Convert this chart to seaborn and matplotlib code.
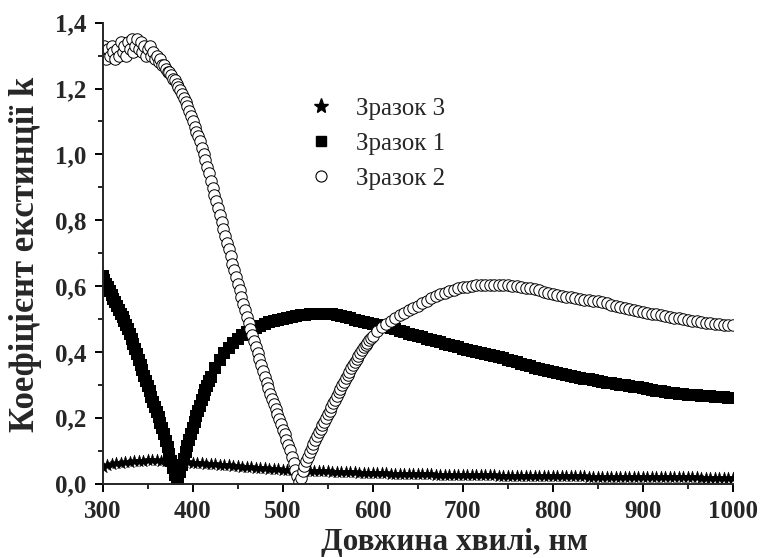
import numpy as np
import pandas as pd
import matplotlib
matplotlib.use("Agg")
import matplotlib.pyplot as plt
from matplotlib.ticker import MultipleLocator, FuncFormatter
from matplotlib.lines import Line2D
import seaborn as sns

# ---------------- data ----------------
x_label = "Довжина хвилі, нм"
y_label = "Коефіцієнт екстинції k"
labels = ["Зразок 3", "Зразок 1", "Зразок 2"]

# Sample 1 (squares)
s1_wl_a = np.arange(300, 421, 2)
s1_k_a = [0.630, 0.619, 0.607, 0.596, 0.584, 0.573, 0.562, 0.550, 0.539, 0.527,
          0.516, 0.505, 0.493, 0.482, 0.470, 0.455, 0.440, 0.424, 0.408, 0.392,
          0.376, 0.360, 0.344, 0.328, 0.312, 0.296, 0.280, 0.264, 0.249, 0.233,
          0.217, 0.201, 0.185, 0.169, 0.150, 0.130, 0.110, 0.090, 0.069, 0.048,
          0.027, 0.008,
          0.015, 0.035, 0.055, 0.075, 0.095, 0.114, 0.133, 0.151, 0.169, 0.187,
          0.204, 0.221, 0.237, 0.253, 0.268, 0.283, 0.297, 0.310, 0.323]
s1_wl_b = np.arange(425, 1001, 5)
s1_k_b = [0.352, 0.375, 0.395, 0.412, 0.427, 0.440, 0.450, 0.459, 0.466, 0.473,
          0.479, 0.485, 0.490, 0.494, 0.498, 0.501, 0.504, 0.507, 0.509, 0.511,
          0.513, 0.514, 0.515, 0.516, 0.516, 0.516, 0.515, 0.513, 0.510, 0.506,
          0.502, 0.498, 0.494, 0.490, 0.487, 0.484, 0.481, 0.478, 0.475, 0.472,
          0.468, 0.464, 0.460, 0.455, 0.451, 0.447, 0.444, 0.440, 0.436, 0.432,
          0.429, 0.425, 0.421, 0.418, 0.414, 0.410, 0.407, 0.404, 0.401, 0.398,
          0.394, 0.391, 0.387, 0.384, 0.380, 0.376, 0.372, 0.368, 0.364, 0.360,
          0.356, 0.352, 0.349, 0.346, 0.343, 0.340, 0.337, 0.334, 0.331, 0.328,
          0.325, 0.322, 0.319, 0.316, 0.313, 0.311, 0.308, 0.306, 0.304, 0.302,
          0.300, 0.298, 0.296, 0.294, 0.292, 0.290, 0.287, 0.285, 0.282, 0.280,
          0.278, 0.276, 0.275, 0.273, 0.272, 0.270, 0.269, 0.268, 0.267, 0.266,
          0.265, 0.264, 0.263, 0.262, 0.261, 0.260]

# Sample 2 (open circles)
s2_wl_a = np.arange(300, 379, 2)
s2_k_a = [1.30, 1.33, 1.29, 1.32, 1.30, 1.33, 1.31, 1.29, 1.32, 1.30,
          1.34, 1.31, 1.33, 1.30, 1.34, 1.32, 1.35, 1.31, 1.33, 1.35,
          1.32, 1.34, 1.31, 1.33, 1.30, 1.32, 1.33, 1.30, 1.31, 1.29,
          1.30, 1.28, 1.29, 1.27, 1.27, 1.26, 1.25, 1.25, 1.24, 1.23]
s2_wl_b = np.arange(380, 521, 2)
s2_k_b = [1.225, 1.215, 1.205, 1.195, 1.183, 1.172, 1.160, 1.147, 1.133, 1.118,
          1.100, 1.083, 1.068, 1.055, 1.040, 1.020, 1.000, 0.982, 0.962, 0.942,
          0.920, 0.897, 0.878, 0.858, 0.838, 0.815, 0.794, 0.773, 0.752, 0.731,
          0.712, 0.690, 0.668, 0.648, 0.627, 0.607, 0.587, 0.566, 0.546, 0.526,
          0.507, 0.488, 0.470, 0.452, 0.434, 0.415, 0.397, 0.378, 0.360, 0.341,
          0.323, 0.305, 0.289, 0.273, 0.258, 0.242, 0.226, 0.210, 0.195, 0.180,
          0.164, 0.149, 0.133, 0.117, 0.102, 0.082, 0.062, 0.042, 0.022, 0.005,
          0.018]
s2_wl_c = np.arange(522, 601, 2)
s2_k_c = [0.038, 0.053, 0.067, 0.081, 0.095, 0.107, 0.119, 0.131, 0.143, 0.155,
          0.166, 0.177, 0.188, 0.199, 0.210, 0.221, 0.232, 0.244, 0.255, 0.266,
          0.277, 0.288, 0.298, 0.309, 0.320, 0.330, 0.340, 0.350, 0.360, 0.370,
          0.379, 0.388, 0.397, 0.406, 0.414, 0.421, 0.428, 0.435, 0.442, 0.448]
s2_wl_d = np.arange(605, 1001, 5)
s2_k_d = [0.462, 0.474, 0.485, 0.495,
          0.504, 0.512, 0.519, 0.526, 0.533, 0.540, 0.548, 0.556, 0.563, 0.569,
          0.575, 0.580, 0.585, 0.589, 0.593, 0.596, 0.598, 0.600, 0.602, 0.603,
          0.603, 0.604, 0.604, 0.603, 0.603, 0.602, 0.600, 0.599, 0.597, 0.595,
          0.593, 0.590, 0.587, 0.583, 0.580, 0.577, 0.574, 0.571, 0.568, 0.566,
          0.563, 0.561, 0.559, 0.557, 0.555, 0.553, 0.550, 0.547, 0.543, 0.540,
          0.536, 0.533, 0.530, 0.527, 0.524, 0.521, 0.518, 0.516, 0.514, 0.512,
          0.509, 0.506, 0.504, 0.502, 0.499, 0.497, 0.495, 0.493, 0.491, 0.489,
          0.487, 0.485, 0.484, 0.483, 0.482, 0.481]

# Sample 3 (stars)
s3_wl = np.arange(300, 1001, 5)
s3_k = [0.050, 0.056, 0.059, 0.061, 0.063, 0.064, 0.066, 0.067, 0.068, 0.069,
        0.070, 0.070, 0.070, 0.069, 0.068, 0.068, 0.067, 0.066, 0.065, 0.064,
        0.063,
        0.062, 0.061, 0.060, 0.059, 0.058, 0.057, 0.056, 0.055, 0.054, 0.052,
        0.051, 0.050, 0.049, 0.048, 0.047, 0.046, 0.045, 0.044, 0.043, 0.042,
        0.041, 0.041, 0.040, 0.040, 0.039, 0.039, 0.038, 0.038, 0.037, 0.037,
        0.036, 0.036, 0.035, 0.035, 0.034, 0.034, 0.033, 0.033, 0.032, 0.032,
        0.031, 0.031, 0.031, 0.030, 0.030, 0.030, 0.029, 0.029, 0.029, 0.028,
        0.028, 0.028, 0.028, 0.027, 0.027, 0.027, 0.027, 0.026, 0.026, 0.026,
        0.026, 0.026, 0.025, 0.025, 0.025, 0.025, 0.025, 0.024, 0.024, 0.024,
        0.024, 0.024, 0.024, 0.023, 0.023, 0.023, 0.023, 0.023, 0.023, 0.023,
        0.022, 0.022, 0.022, 0.022, 0.022, 0.022, 0.022, 0.021, 0.021, 0.021,
        0.021, 0.021, 0.021, 0.021, 0.021, 0.020, 0.020, 0.020, 0.020, 0.020,
        0.020, 0.020, 0.020, 0.020, 0.019, 0.019, 0.019, 0.019, 0.019, 0.019,
        0.019, 0.019, 0.018, 0.018, 0.018, 0.018, 0.018, 0.018, 0.018, 0.018]

x_ticks = [300, 400, 500, 600, 700, 800, 900, 1000]
y_ticks = [0.0, 0.2, 0.4, 0.6, 0.8, 1.0, 1.2, 1.4]

# ---------------- tables ----------------
df1 = pd.DataFrame({"wl": np.concatenate([s1_wl_a, s1_wl_b]),
                    "k": np.concatenate([s1_k_a, s1_k_b])})
df2 = pd.DataFrame({"wl": np.concatenate([s2_wl_a, s2_wl_b, s2_wl_c, s2_wl_d]),
                    "k": np.concatenate([s2_k_a, s2_k_b, s2_k_c, s2_k_d])})
df3 = pd.DataFrame({"wl": s3_wl, "k": s3_k})

# ---------------- style ----------------
sns.set_style("ticks")
plt.rcParams["font.family"] = ["Liberation Serif", "DejaVu Serif"]
plt.rcParams["axes.linewidth"] = 1.4

fig = plt.figure(figsize=(7.63, 5.58), dpi=100)
ax = fig.add_axes([0.1346, 0.1335, 0.8257, 0.8258])

sns.scatterplot(data=df3, x="wl", y="k", ax=ax, marker="*", s=85,
                color="black", edgecolor="black", linewidth=0.4, legend=False)
sns.scatterplot(data=df1, x="wl", y="k", ax=ax, marker="s", s=72,
                color="black", edgecolor="black", linewidth=0, legend=False)
sns.scatterplot(data=df2, x="wl", y="k", ax=ax, marker="o", s=68,
                color="white", edgecolor="black", linewidth=0.7, legend=False)

ax.set_xlim(300, 1000)
ax.set_ylim(0, 1.4)
ax.set_xticks(x_ticks)
ax.set_yticks(y_ticks)
ax.xaxis.set_minor_locator(MultipleLocator(50))
ax.yaxis.set_minor_locator(MultipleLocator(0.1))
ax.yaxis.set_major_formatter(FuncFormatter(lambda v, p: f"{v:.1f}".replace(".", ",")))
ax.tick_params(which="major", direction="out", length=6, width=1.4,
               labelsize=18, pad=6, color="black")
ax.tick_params(which="minor", direction="out", length=3.5, width=1.2, color="black")
for lab in ax.get_xticklabels() + ax.get_yticklabels():
    lab.set_fontweight("bold")
sns.despine(ax=ax)

ax.set_xlabel(x_label, fontsize=22.5, fontweight="bold")
ax.xaxis.set_label_coords(0.559, -0.097)
ax.set_ylabel(y_label, fontsize=25, fontweight="bold")
ax.yaxis.set_label_coords(-0.097, 0.497)

handles = [
    Line2D([], [], linestyle="none", marker="*", markersize=11, color="black"),
    Line2D([], [], linestyle="none", marker="s", markersize=7, color="black"),
    Line2D([], [], linestyle="none", marker="o", markersize=8,
           markerfacecolor="white", markeredgecolor="black", markeredgewidth=0.8),
]
ax.legend(handles, labels, loc="upper left", bbox_to_anchor=(0.31, 0.86),
          frameon=False, fontsize=18, handletextpad=0.9, labelspacing=0.5,
          handlelength=1.0, borderaxespad=0)

fig.savefig("out.png", dpi=100)
